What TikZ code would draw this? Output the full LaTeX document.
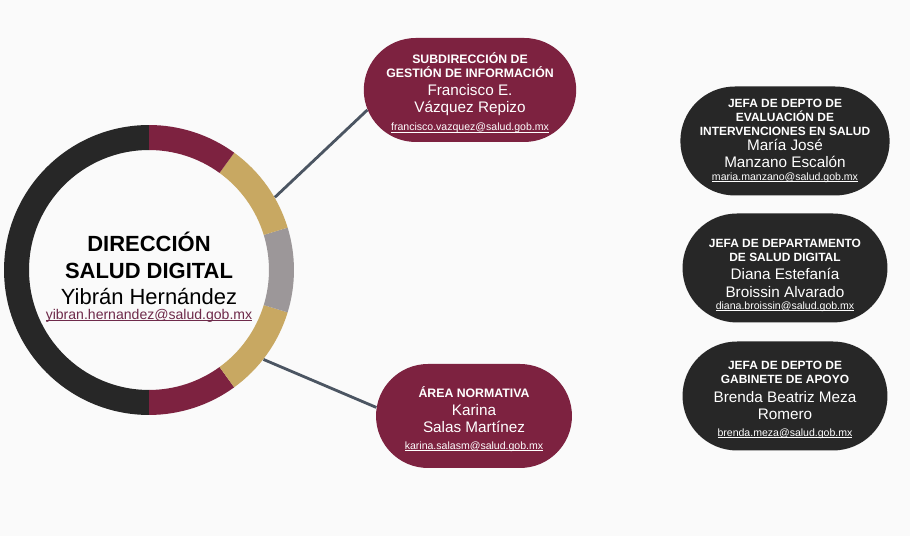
\documentclass[tikz,border=0pt]{standalone}
\usepackage{fontspec}
\setmainfont{Liberation Sans}
\usetikzlibrary{shapes.misc}

\definecolor{guinda}{HTML}{7D2240}
\definecolor{dorado}{HTML}{C8A862}
\definecolor{gris}{HTML}{9C9799}
\definecolor{negro}{HTML}{272727}
\definecolor{enlace}{HTML}{4B5562}
\definecolor{liga}{HTML}{6E2A4A}
\definecolor{fondo}{HTML}{FAFAFA}

\newcommand{\nombre}{\fontsize{8.7}{10}\selectfont\mdseries}
\newcommand{\correo}{\fontsize{6}{7}\selectfont\mdseries}
% underline close to the baseline
\newcommand{\subrayado}[1]{\setbox0\hbox{#1}\rlap{\rule[-0.9pt]{\wd0}{0.4pt}}\box0}

\tikzset{
  area/.style={rounded rectangle, fill=guinda, text=white, align=center, inner sep=0pt,
    minimum width=3.92cm, minimum height=2.08cm, font=\fontsize{7}{8}\selectfont\bfseries},
  depto/.style={area, fill=negro, minimum width=4.1cm, minimum height=2.18cm,
    font=\fontsize{6.8}{8}\selectfont\bfseries},
  liga/.style={enlace, line width=1.6pt}
}

\begin{document}
\begin{tikzpicture}[x=0.02cm, y=0.02cm]
    % background
    \fill[fondo] (0,0) rectangle (910,536);
    \useasboundingbox (0,0) rectangle (910,536);

    % Direccion (ring)
    \node[circle, minimum size=5.8cm, inner sep=0pt, align=center,
          font=\fontsize{12.5}{15}\selectfont\bfseries] (dir) at (149,266)
        {\rule{0pt}{19.6pt}DIRECCIÓN\\ SALUD DIGITAL\\ {\mdseries Yibrán Hernández}\\[-6.5pt]
         {\fontsize{8}{9}\selectfont\mdseries\color{liga}\subrayado{yibran.hernandez@salud.gob.mx}}};
    \foreach \a/\b/\c in {90/270/negro, -90/-54/guinda, -54/-17/dorado,
                          -17/17/gris, 17/54/dorado, 54/90/guinda} {
        \fill[\c] (dir.center) ++(\a:2.9cm) arc[start angle=\a, end angle=\b, radius=2.9cm]
            -- ++(\b:-0.5cm) arc[start angle=\b, end angle=\a, radius=2.4cm] -- cycle;
    }

    % Subdireccion and area
    \node[area] (sub) at (470,446)
        {\rule{0pt}{9.5pt}SUBDIRECCIÓN DE\\ GESTIÓN DE INFORMACIÓN\\[2.2pt]
         {\nombre Francisco E.}\\[1.6pt] {\nombre Vázquez Repizo}\\[2.2pt]
         {\correo\subrayado{francisco.vazquez@salud.gob.mx}}};
    \node[area] (norm) at (474,120)
        {\rule{0pt}{9.5pt}ÁREA NORMATIVA\\[2.2pt]
         {\nombre Karina}\\[1.6pt] {\nombre Salas Martínez}\\[1.6pt]
         {\correo\subrayado{karina.salasm@salud.gob.mx}}};

    % Jefaturas
    \node[depto] (eval) at (785,395)
        {JEFA DE DEPTO DE\\ EVALUACIÓN DE\\ INTERVENCIONES EN SALUD\\[0.5pt]
         {\nombre María José}\\[1.6pt] {\nombre Manzano Escalón}\\[-0.6pt]
         {\correo\subrayado{maria.manzano@salud.gob.mx}}};
    \node[depto] (digi) at (785,268)
        {\rule{0pt}{13pt}JEFA DE DEPARTAMENTO\\ DE SALUD DIGITAL\\[2.2pt]
         {\nombre Diana Estefanía}\\[2.2pt] {\nombre Broissin Alvarado}\\[-1.2pt]
         {\correo\subrayado{diana.broissin@salud.gob.mx}}};
    \node[depto] (gabi) at (785,140)
        {\rule{0pt}{9pt}JEFA DE DEPTO DE\\ GABINETE DE APOYO\\[3pt]
         {\nombre Brenda Beatriz Meza}\\[1.6pt] {\nombre Romero}\\[1.6pt]
         {\correo\subrayado{brenda.meza@salud.gob.mx}}};

    % connectors
    \draw[liga] (dir.30) -- (sub.191);
    \draw[liga] (dir.-38) -- (norm.175);
\end{tikzpicture}
\end{document}
